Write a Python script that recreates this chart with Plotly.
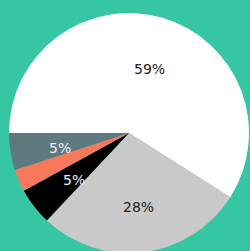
import math
import plotly.graph_objects as go

labels = ["A", "B", "C", "D", "E"]
values = [59, 28, 5, 3, 5]
text_labels = ["59%", "28%", "5%", "", "5%"]
colors = ["#ffffff", "#c9c9c9", "#000000", "#f7785a", "#5e7a7e"]
text_colors = ["#222222", "#222222", "#f2f2f2", "#f2f2f2", "#eeeeee"]

W, H = 250, 254
CX, CY, R = 129, 133, 120  # pie centre and radius in px
START = 270  # first slice starts at 9 o'clock (compass degrees)
LABEL_FRAC = 0.59

fig = go.Figure(go.Pie(
    labels=labels,
    values=values,
    textinfo="none",
    sort=False,
    direction="clockwise",
    rotation=START,
    marker=dict(colors=colors, line=dict(width=0)),
    domain=dict(x=[(CX - R) / W, (CX + R) / W],
                y=[1 - (CY + R) / H, 1 - (CY - R) / H]),
    showlegend=False,
    hoverinfo="none",
))

total = sum(values)
acc = 0
annotations = []
for v, t, c in zip(values, text_labels, text_colors):
    mid = START + (acc + v / 2) / total * 360
    acc += v
    if not t:
        continue
    th = math.radians(mid)
    px = CX + LABEL_FRAC * R * math.sin(th)
    py = CY - LABEL_FRAC * R * math.cos(th)
    annotations.append(dict(
        x=px / W, y=1 - py / H, xref="paper", yref="paper",
        text=t, showarrow=False,
        font=dict(family="DejaVu Sans", size=14, color=c),
        xanchor="center", yanchor="middle",
        xshift=1, yshift=-4,
    ))

fig.update_layout(
    width=W, height=H,
    margin=dict(l=0, r=0, t=0, b=0),
    paper_bgcolor="#36c6a3",
    plot_bgcolor="#36c6a3",
    annotations=annotations,
)
fig.write_html(
    "out.html",
    config={"displayModeBar": False},
    post_script="document.body.style.margin='0px';document.body.style.background='#36c6a3';",
)
